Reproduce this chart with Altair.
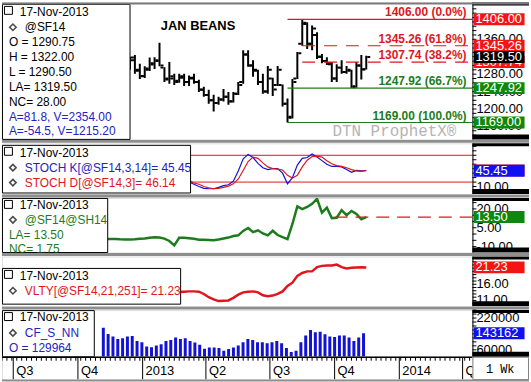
import altair as alt
import pandas as pd

FONT = "Liberation Sans"
MONO = "Liberation Mono"

# ---------------- data ----------------
# Jan soybeans (@SF14), weekly bars ending Friday 14-Dec-2012 .. 15-Nov-2013
opens = [1300, 1318, 1290, 1276, 1290, 1302, 1310, 1295, 1268, 1270,
         1265, 1272, 1262, 1270, 1262, 1245, 1232, 1220, 1214, 1222,
         1228, 1218, 1235, 1262, 1325, 1300, 1288, 1262, 1240, 1270,
         1255, 1255, 1212, 1182, 1270, 1350, 1395, 1350, 1370, 1320,
         1310, 1303, 1270, 1295, 1285, 1288, 1252, 1300, 1290.75]
highs = [1320, 1324, 1304, 1298, 1318, 1319, 1352, 1296, 1308, 1281,
         1281, 1281, 1277, 1281, 1267, 1251, 1244, 1233, 1228, 1246,
         1239, 1239, 1262, 1335, 1335, 1312, 1290, 1281, 1299, 1272,
         1299, 1256, 1224, 1269, 1331, 1406, 1399, 1392, 1376, 1326,
         1319, 1308, 1303, 1312, 1299, 1290, 1308, 1324, 1322.00]
lows = [1290, 1281, 1269, 1271, 1287, 1292, 1298, 1262, 1258, 1255,
        1260, 1253, 1253, 1258, 1239, 1228, 1212, 1194, 1210, 1217,
        1210, 1215, 1232, 1258, 1297, 1274, 1255, 1235, 1235, 1230,
        1253, 1206, 1169, 1178, 1269, 1345, 1338, 1335, 1315, 1305,
        1301, 1262, 1262, 1281, 1281, 1248, 1249, 1268, 1290.50]
closes = [1312, 1288, 1275, 1293, 1305, 1312, 1300, 1270, 1275, 1262,
          1275, 1262, 1272, 1262, 1244, 1232, 1220, 1214, 1222, 1228,
          1217, 1235, 1255, 1325, 1300, 1290, 1262, 1240, 1290, 1245,
          1290, 1212, 1180, 1262, 1328, 1398, 1350, 1385, 1320, 1310,
          1305, 1270, 1295, 1285, 1290, 1250, 1300, 1291.5, 1319.50]
summary_lines = ["A=81.8, V=2354.00", "A=-54.5, V=1215.20"]

# retracement levels
fib_levels = [1406.00, 1345.26, 1307.74, 1247.92, 1169.00]
fib_pcts = ["0.0%", "61.8%", "38.2%", "66.7%", "100.0%"]
fib_up = [True, True, True, False, False]       # red above, green below
fib_dashed = [False, True, True, False, False]

# stochastics (from week 13 of the price series)
stoch_k = [20, 15, 10, 6, 5, 5, 8, 12, 14, 22, 45, 72, 82, 75, 62, 52, 48, 50, 50,
           40, 16, 30, 58, 73, 75, 83, 76, 68, 60, 55, 55, 54, 48, 42, 46, 45, 45.45]
stoch_d = [24, 18, 15, 10, 7, 5, 6, 8, 11, 16, 27, 46, 66, 76, 73, 63, 54, 50, 49,
           47, 35, 29, 35, 54, 69, 77, 78, 76, 68, 61, 57, 55, 52, 48, 45, 44, 46.14]
stoch_levels = [80, 20]

# Jan/Mar spread (@SF14@SH14), weekly
spread = [-3.9, -3.9, -4.0, -4.2, -4.3, -4.4, -4.2, -3.8, -3.5, -3.0,
          -2.6, -2.8, -3.6, -5.5, -9.0, -3.0, -3.0, -3.4, -3.8, -4.5,
          -4.6, -4.8, -5.0, -4.4, -3.6, -2.8, -1.6, -1.0, 2.5, 4.8,
          1.5, 3.0, 0.5, -1.0, 2.6, -0.8, -2.5, -4.0, 8.0, 22.0,
          19.8, 21.5, 24.0, 28.0, 17.0, 21.0, 12.7, 13.0, 19.0, 15.0,
          18.4, 16.0, 11.75, 13.50]
spread_ref_start = "2013-10-01"

# 21-week volatility (from week 11 of the price series)
vlty = [13.6, 13.7, 13.8, 13.8, 13.7, 13.0, 12.0, 11.3, 10.8, 10.9,
        11.0, 11.8, 12.8, 13.5, 13.7, 13.8, 13.5, 12.6, 12.3, 12.5,
        13.0, 13.8, 15.5, 16.5, 18.6, 19.5, 20.0, 20.0, 21.3, 21.7,
        21.8, 21.8, 22.1, 21.3, 20.9, 21.1, 21.2, 21.3, 21.23]

# commitments of traders, non-commercial net (CF_S_NN), weekly
cot = [171500, 140000, 126500, 115000, 118500, 126500, 130000, 105000, 98000, 76500,
       73000, 81500, 88500, 105000, 110000, 121500, 115000, 118000, 105000, 96500,
       85000, 65000, 71500, 71500, 68500, 55000, 63500, 71500, 81500, 98000,
       115000, 110000, 98000, 98000, 93500, 98000, 105000, 93500, 68500, 48500,
       55000, 98000, 131500, 160000, 148500, 151500, 138500, 126500, 125000, 131500,
       131500, 121500, 105000, 121500, 143162]
cot_open = 129964

# right-hand scale ticks and the labels left uncovered by the value flags
p1_ticks, p1_labels = list(range(1140, 1441, 10)), [1160, 1200, 1240, 1280, 1360]
p2_ticks, p2_labels = list(range(0, 101, 10)), [10]
p3_ticks, p3_labels = list(range(-10, 26, 5)), [-10, 5, 20]
p4_ticks, p4_labels = list(range(10, 25)), [11, 16]
p5_ticks, p5_labels = list(range(40000, 260001, 20000)), [60000, 220000]

quarter_starts = ["2012-07-01", "2012-10-01", "2013-01-01", "2013-04-01",
                  "2013-07-01", "2013-10-01", "2014-01-01", "2014-04-01"]
quarter_labels = ["Q3", "Q4", "2013", "Q2", "Q3", "Q4", "2014", "Q2"]
as_of = "17-Nov-2013"

# ---------------- tables ----------------
week_dates = pd.date_range("2012-12-14", periods=len(opens), freq="7D")
last = week_dates[-1]
price_df = pd.DataFrame({"date": week_dates, "open": opens, "high": highs,
                         "low": lows, "close": closes})
stoch_df = pd.DataFrame({"date": week_dates[len(week_dates) - len(stoch_k):],
                         "k": stoch_k, "d": stoch_d})
spread_df = pd.DataFrame({"date": pd.date_range(end=last, periods=len(spread), freq="7D"),
                          "v": spread})
vlty_df = pd.DataFrame({"date": week_dates[len(week_dates) - len(vlty):], "v": vlty})
cot_df = pd.DataFrame({"date": pd.date_range(end=last, periods=len(cot), freq="7D"),
                       "v": cot})

RED = "#e0161e"
RED_BOX = "#f41414"
GREEN = "#1c7c1c"
GREEN_BOX = "#0d870d"
BLUE_TXT = "#2323c4"
BLUE = "#1212d4"
BLUE_BOX = "#1010f4"

low_date = week_dates[lows.index(min(lows))]
high_date = week_dates[highs.index(max(highs))]
fib_df = pd.DataFrame({
    "v": fib_levels,
    "label": [f"{v:.2f} ({p})" for v, p in zip(fib_levels, fib_pcts)],
    "color": [RED if u else GREEN for u in fib_up],
    "start": [high_date if d else low_date for d in fib_dashed],
    "dashed": fib_dashed,
})

# ---------------- layout ----------------
W, AX = 474, 57
H1, H2, H3, H4, H5, HX = 138, 51, 55, 50, 47, 23
ONE = pd.DataFrame({"k": [0]})

x_scale = alt.Scale(domain=[alt.DateTime(year=2012, month=6, date=15),
                            alt.DateTime(year=2014, month=4, date=15)])


def X(field="date"):
    return alt.X(f"{field}:T", scale=x_scale, axis=None)


def Y(field, ys):
    return alt.Y(f"{field}:Q", scale=ys, axis=None)


def rect(x1, y1, x2, y2, fill, stroke="black", sw=0):
    return alt.Chart(ONE).mark_rect(fill=fill, stroke=stroke, strokeWidth=sw).encode(
        x=alt.value(x1), x2=alt.value(x2), y=alt.value(y1), y2=alt.value(y2))


def hline(x1, x2, y, color, sw):
    return alt.Chart(ONE).mark_rule(color=color, strokeWidth=sw).encode(
        x=alt.value(x1), x2=alt.value(x2), y=alt.value(y))


def text(t, x, y, color="black", size=12, font=FONT, weight="normal", clip=False, align="left"):
    return alt.Chart(ONE).mark_text(text=t, align=align, baseline="middle", font=font,
                                    fontSize=size, fontWeight=weight, color=color,
                                    clip=clip).encode(x=alt.value(x), y=alt.value(y))


def right_scale(h, ys, ticks, labels, fmt):
    """Scale on the right edge: spine, small ticks and labels."""
    t_df = pd.DataFrame({"v": ticks})
    l_df = pd.DataFrame({"v": labels, "label": [format(v, fmt) for v in labels]})
    return [
        alt.Chart(ONE).mark_rule(color="black", strokeWidth=1).encode(
            x=alt.value(W + 0.5), y=alt.value(0), y2=alt.value(h)),
        alt.Chart(t_df).mark_rule(color="black", strokeWidth=1).encode(
            x=alt.value(W), x2=alt.value(W + 4), y=Y("v", ys)),
        alt.Chart(l_df).mark_text(align="left", baseline="middle", font=FONT, fontSize=13,
                                  color="black").encode(
            x=alt.value(W + 4), y=Y("v", ys), text="label:N"),
    ]


def legend_block(x2, y1, y2, lines, clip=False):
    layers = [rect(0.5, y1, x2, y2, "white", sw=1),
              rect(2.5, y1 + 2, 10.5, y1 + 10, "white", sw=1)]
    for t, x, y, color, dia in lines:
        if dia:
            layers.append(alt.Chart(ONE).mark_point(shape="diamond", filled=False, color="black",
                                                    strokeWidth=1.6, size=42).encode(
                x=alt.value(11), y=alt.value(y)))
        layers.append(text(t, x, y, color, clip=clip))
    return layers


def value_box(v, label, color, ys):
    d = pd.DataFrame({"v": [v], "label": [label]})
    box = alt.Chart(d).mark_tick(orient="horizontal", size=51, thickness=12, opacity=1,
                                 color=color).encode(x=alt.value(W + 27), y=Y("v", ys))
    lab = alt.Chart(d).mark_text(align="left", baseline="middle", font=FONT, fontSize=13,
                                 color="white").encode(
        x=alt.value(W + 3), y=Y("v", ys), text="label:N")
    return [box, lab]


def column(h, gap=True):
    layers = [rect(W, 0, W + AX, 3, "black"), rect(W, h - 5, W + AX, h, "black")]
    if gap:
        layers.append(hline(0, W + AX, h + 2, "#8e8e8e", 3))
    return layers


# ---- panel 1: price ----
ys1 = alt.Scale(domain=[1130.2, 1444.7], nice=False, zero=False)
base = alt.Chart(price_df)
p1 = right_scale(H1, ys1, p1_ticks, p1_labels, ".2f") + [
    base.mark_rule(color="black", strokeWidth=2, clip=True).encode(
        x=X(), y=Y("low", ys1), y2="high:Q"),
    base.mark_tick(orient="horizontal", size=3, thickness=2, xOffset=-2.5, color="black",
                   opacity=1, clip=True).encode(x=X(), y=Y("open", ys1)),
    base.mark_tick(orient="horizontal", size=3, thickness=2, xOffset=2.5, color="black",
                   opacity=1, clip=True).encode(x=X(), y=Y("close", ys1)),
    alt.Chart(fib_df).transform_filter("!datum.dashed").mark_rule(strokeWidth=1.2).encode(
        x=X("start"), x2=alt.value(W), y=Y("v", ys1), color=alt.Color("color:N", scale=None)),
    alt.Chart(fib_df).transform_filter("datum.dashed").mark_rule(
        strokeWidth=1.2, strokeDash=[13, 9]).encode(
        x=X("start"), x2=alt.value(W), y=Y("v", ys1), color=alt.Color("color:N", scale=None)),
    alt.Chart(fib_df).mark_text(align="right", baseline="alphabetic", dy=-3, font=FONT,
                                fontSize=12, fontWeight="bold").encode(
        x=alt.value(468), y=Y("v", ys1), text="label:N", color=alt.Color("color:N", scale=None)),
    text("JAN BEANS", 160, 24, size=13, weight="bold"),
    text("DTN ProphetX\u00ae", 333, 130, color="#b4b4b4", size=16, font=MONO),
]
p1 += legend_block(129, 2, H1, [
    (as_of, 18, 9.5, "black", False),
    ("@SF14", 23, 25, "black", True),
    (f"O = {opens[-1]:.2f}", 7, 40, "black", False),
    (f"H = {highs[-1]:.2f}", 7, 55, "black", False),
    (f"L = {lows[-1]:.2f}", 7, 70, "black", False),
    (f"LA= {closes[-1]:.2f}", 7, 85, "black", False),
    (f"NC= {closes[-1] - closes[-2]:.2f}", 7, 100, "black", False),
    (summary_lines[0], 7, 115, BLUE_TXT, False),
    (summary_lines[1], 7, 129.5, BLUE_TXT, False),
])
for v, up in zip(fib_levels, fib_up):
    p1 += value_box(v, f"{v:.2f}", RED_BOX if up else GREEN_BOX, ys1)
p1 += value_box(closes[-1], f"{closes[-1]:.2f}", "black", ys1)
p1 += column(H1)
p1.append(hline(0, W + AX, 1, "#7a7a7a", 2))
panel1 = alt.layer(*p1).properties(width=W, height=H1)

# ---- panel 2: stochastics ----
ys2 = alt.Scale(domain=[-6.7, 106.7], nice=False, zero=False)
sbase = alt.Chart(stoch_df)
p2 = right_scale(H2, ys2, p2_ticks, p2_labels, ".2f") + [
    alt.Chart(pd.DataFrame({"v": stoch_levels})).mark_rule(color=RED, strokeWidth=1).encode(
        x=alt.value(0), x2=alt.value(W), y=Y("v", ys2)),
    sbase.mark_line(color=BLUE, strokeWidth=1.2, clip=True).encode(x=X(), y=Y("k", ys2)),
    sbase.mark_line(color=RED, strokeWidth=1.2, clip=True).encode(x=X(), y=Y("d", ys2)),
]
p2 += legend_block(190, 2, 50, [
    (as_of, 18, 10, "black", False),
    (f"STOCH K[@SF14,3,14]= {stoch_k[-1]:.2f}", 23, 24.5, BLUE_TXT, True),
    (f"STOCH D[@SF14,3]= {stoch_d[-1]:.2f}", 23, 39.5, RED, True),
])
p2 += value_box(stoch_d[-1], f"{stoch_d[-1]:.2f}", RED_BOX, ys2)
p2 += value_box(stoch_k[-1], f"{stoch_k[-1]:.2f}", BLUE_BOX, ys2)
p2 += column(H2)
panel2 = alt.layer(*p2).properties(width=W, height=H2)

# ---- panel 3: Jan/Mar spread ----
ys3 = alt.Scale(domain=[-14.7, 28.7], nice=False, zero=False)
p3 = right_scale(H3, ys3, p3_ticks, p3_labels, ".2f") + [
    alt.Chart(spread_df).mark_line(color=GREEN, strokeWidth=2.5, clip=True).encode(
        x=X(), y=Y("v", ys3)),
    alt.Chart(pd.DataFrame({"start": [spread_ref_start], "v": [spread[-1]]})).mark_rule(
        color=RED, strokeWidth=1.2, strokeDash=[13, 8]).encode(
        x=X("start"), x2=alt.value(W), y=Y("v", ys3)),
]
p3 += legend_block(106.5, 0.5, H3, [
    (as_of, 18, 7, "black", False),
    ("@SF14@SH14", 23, 22, GREEN, True),
    (f"LA= {spread[-1]:.2f}", 7, 37, GREEN, False),
    (f"NC= {spread[-1] - spread[-2]:.2f}", 7, 51.5, GREEN, False),
], clip=True)
p3 += value_box(spread[-1], f"{spread[-1]:.2f}", GREEN_BOX, ys3)
p3 += column(H3)
panel3 = alt.layer(*p3).properties(width=W, height=H3)

# ---- panel 4: volatility ----
ys4 = alt.Scale(domain=[9.23, 24.6], nice=False, zero=False)
p4 = right_scale(H4, ys4, p4_ticks, p4_labels, ".2f") + [
    alt.Chart(vlty_df).mark_line(color=RED, strokeWidth=2.5, clip=True).encode(
        x=X(), y=Y("v", ys4)),
]
p4 += legend_block(180, 12, 48, [
    (as_of, 18, 19.5, "black", False),
    (f"VLTY[@SF14,21,251]= {vlty[-1]:.2f}", 23, 34.5, RED, True),
])
p4 += value_box(vlty[-1], f"{vlty[-1]:.2f}", RED_BOX, ys4)
p4 += column(H4)
panel4 = alt.layer(*p4).properties(width=W, height=H4)

# ---- panel 5: commitments of traders ----
ys5 = alt.Scale(domain=[25000, 260000], nice=False, zero=False)
p5 = right_scale(H5, ys5, p5_ticks, p5_labels, "d") + [
    alt.Chart(cot_df).mark_bar(color=BLUE, size=3, clip=True).encode(
        x=X(), y=Y("v", ys5), y2=alt.datum(25000)),
]
p5 += legend_block(93, 0.5, H5, [
    (as_of, 18, 7, "black", False),
    ("CF_S_NN", 23, 23, BLUE_TXT, True),
    (f"O = {cot_open}", 7, 38, BLUE_TXT, False),
])
p5 += value_box(cot[-1], f"{cot[-1]}", BLUE_BOX, ys5)
p5 += column(H5, gap=False)
panel5 = alt.layer(*p5).properties(width=W, height=H5)

# ---- time strip ----
q_df = pd.DataFrame({"date": pd.to_datetime(quarter_starts), "label": quarter_labels})
wk_df = pd.DataFrame({"date": pd.date_range("2012-06-15", "2014-04-15", freq="7D")})
strip = alt.layer(
    alt.Chart(wk_df).mark_rule(color="black", strokeWidth=1, clip=True).encode(
        x=X(), y=alt.value(0), y2=alt.value(4)),
    alt.Chart(q_df).mark_rule(color="black", strokeWidth=1, clip=True).encode(
        x=X(), y=alt.value(0), y2=alt.value(HX)),
    alt.Chart(q_df).mark_text(align="left", baseline="middle", dx=3, font=FONT, fontSize=13,
                              color="black", clip=True).encode(
        x=X(), y=alt.value(14), text="label:N"),
    hline(0, W, 0.5, "black", 1.5),
    rect(W + 0.5, 0.5, W + AX - 0.5, HX, "white", stroke="#808080", sw=1),
    text("1 Wk", W + 28, 12, size=12, font=MONO, align="center"),
    hline(0, W + AX, HX + 1, "#8e8e8e", 2),
).properties(width=W, height=HX)

chart = alt.vconcat(
    panel1, panel2, panel3, panel4,
    alt.vconcat(panel5, strip, spacing=0, bounds="flush"),
    spacing=4, bounds="flush",
).properties(padding=0).configure_view(stroke=None).configure(background="white")

chart.save("out.html", embed_options={"renderer": "svg", "actions": False})
